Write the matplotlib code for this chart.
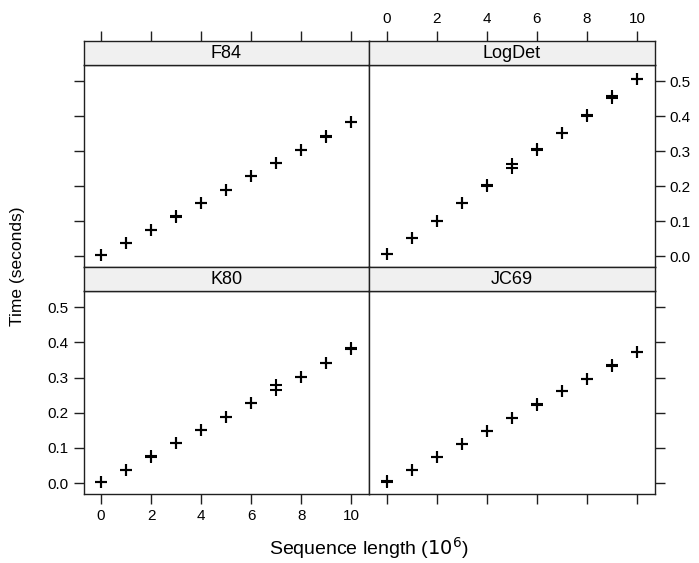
import matplotlib
matplotlib.use("Agg")
import matplotlib.pyplot as plt

plt.rcParams['font.family'] = ['Liberation Sans', 'DejaVu Sans']

# sequence length in units of 10^6
seq_len = [0, 1, 2, 3, 4, 5, 6, 7, 8, 9, 10]

# two timing runs per distance method (seconds)
f84_run1 = [0.003, 0.037, 0.076, 0.113, 0.152, 0.190, 0.228, 0.265, 0.303, 0.342, 0.382]
f84_run2 = [0.004, 0.038, 0.076, 0.114, 0.151, 0.190, 0.230, 0.266, 0.302, 0.341, 0.384]
logdet_run1 = [0.006, 0.051, 0.101, 0.152, 0.202, 0.262, 0.305, 0.352, 0.402, 0.458, 0.506]
logdet_run2 = [0.005, 0.051, 0.101, 0.151, 0.201, 0.251, 0.304, 0.352, 0.401, 0.452, 0.505]
k80_run1 = [0.004, 0.037, 0.076, 0.114, 0.151, 0.188, 0.227, 0.278, 0.302, 0.342, 0.383]
k80_run2 = [0.004, 0.038, 0.075, 0.114, 0.151, 0.189, 0.227, 0.266, 0.302, 0.341, 0.381]
jc69_run1 = [0.005, 0.038, 0.075, 0.112, 0.149, 0.186, 0.223, 0.261, 0.296, 0.335, 0.373]
jc69_run2 = [0.004, 0.037, 0.075, 0.112, 0.149, 0.186, 0.224, 0.261, 0.297, 0.332, 0.374]

x_ticks = [0, 2, 4, 6, 8, 10]
y_ticks = [0.0, 0.1, 0.2, 0.3, 0.4, 0.5]
y_labels = ["0.0", "0.1", "0.2", "0.3", "0.4", "0.5"]

W, H = 699, 563
fig = plt.figure(figsize=(W / 100, H / 100), dpi=100)

def px_box(x0, x1, y0, y1):
    # pixel box (top-left origin) -> figure fraction rect
    return [x0 / W, 1 - y1 / H, (x1 - x0) / W, (y1 - y0) / H]

col_x = [(83.5, 369), (369, 654.5)]
row_y = [(65, 267), (291, 494)]   # plot areas
strip_h = 24

panels = [
    ("F84", f84_run1, f84_run2, 0, 0),
    ("LogDet", logdet_run1, logdet_run2, 0, 1),
    ("K80", k80_run1, k80_run2, 1, 0),
    ("JC69", jc69_run1, jc69_run2, 1, 1),
]

tick_fs = 11
strip_fs = 13
edge = "#202020"

for name, r1, r2, row, col in panels:
    x0, x1 = col_x[col]
    y0, y1 = row_y[row]
    ax = fig.add_axes(px_box(x0, x1, y0, y1))
    for run in (r1, r2):
        ax.plot(seq_len, run, linestyle="none", marker="+", color="black",
                markersize=8.5, markeredgewidth=1.5)
    ax.set_xlim(-0.7, 10.7)
    ax.set_ylim(-0.031, 0.546)
    for s in ax.spines.values():
        s.set_color(edge)
        s.set_linewidth(1.0)
    ax.tick_params(direction="out", length=7, width=1, color=edge,
                   labelsize=tick_fs, pad=4)
    ax.set_xticks(x_ticks)
    ax.set_yticks(y_ticks)

    # x ticks: bottom row on bottom, top row ticks drawn on strip top
    if row == 1:
        ax.tick_params(axis="x", bottom=True, top=False,
                       labelbottom=(col == 0), labeltop=False)
    else:
        ax.tick_params(axis="x", bottom=False, top=False,
                       labelbottom=False, labeltop=False)
    # y ticks: left column left side, right column right side
    if col == 0:
        ax.tick_params(axis="y", left=True, right=False,
                       labelleft=(row == 1), labelright=False)
    else:
        ax.tick_params(axis="y", left=False, right=True,
                       labelleft=False, labelright=(row == 0))
    ax.set_yticklabels(y_labels)

    # strip
    sax = fig.add_axes(px_box(x0, x1, y0 - strip_h, y0))
    sax.set_facecolor("#f0f0f0")
    sax.set_xlim(-0.7, 10.7)
    sax.set_ylim(0, 1)
    sax.set_yticks([])
    for s in sax.spines.values():
        s.set_color(edge)
        s.set_linewidth(1.0)
    if row == 0:
        sax.set_xticks(x_ticks)
        sax.tick_params(axis="x", bottom=False, top=True, labelbottom=False,
                        labeltop=(col == 1), direction="out", length=7,
                        width=1, color=edge, labelsize=tick_fs, pad=4)
    else:
        sax.set_xticks([])
    sax.text(0.5, 0.5, name, transform=sax.transAxes, ha="center",
             va="center", fontsize=strip_fs)

fig.text(369 / W, 1 - 548 / H, "Sequence length ($10^6$)", ha="center",
         va="center", fontsize=14)
fig.text(18 / W, 1 - 266 / H, "Time (seconds)", ha="center", va="center",
         rotation=90, fontsize=12.5)

fig.savefig("out.png", dpi=100)
